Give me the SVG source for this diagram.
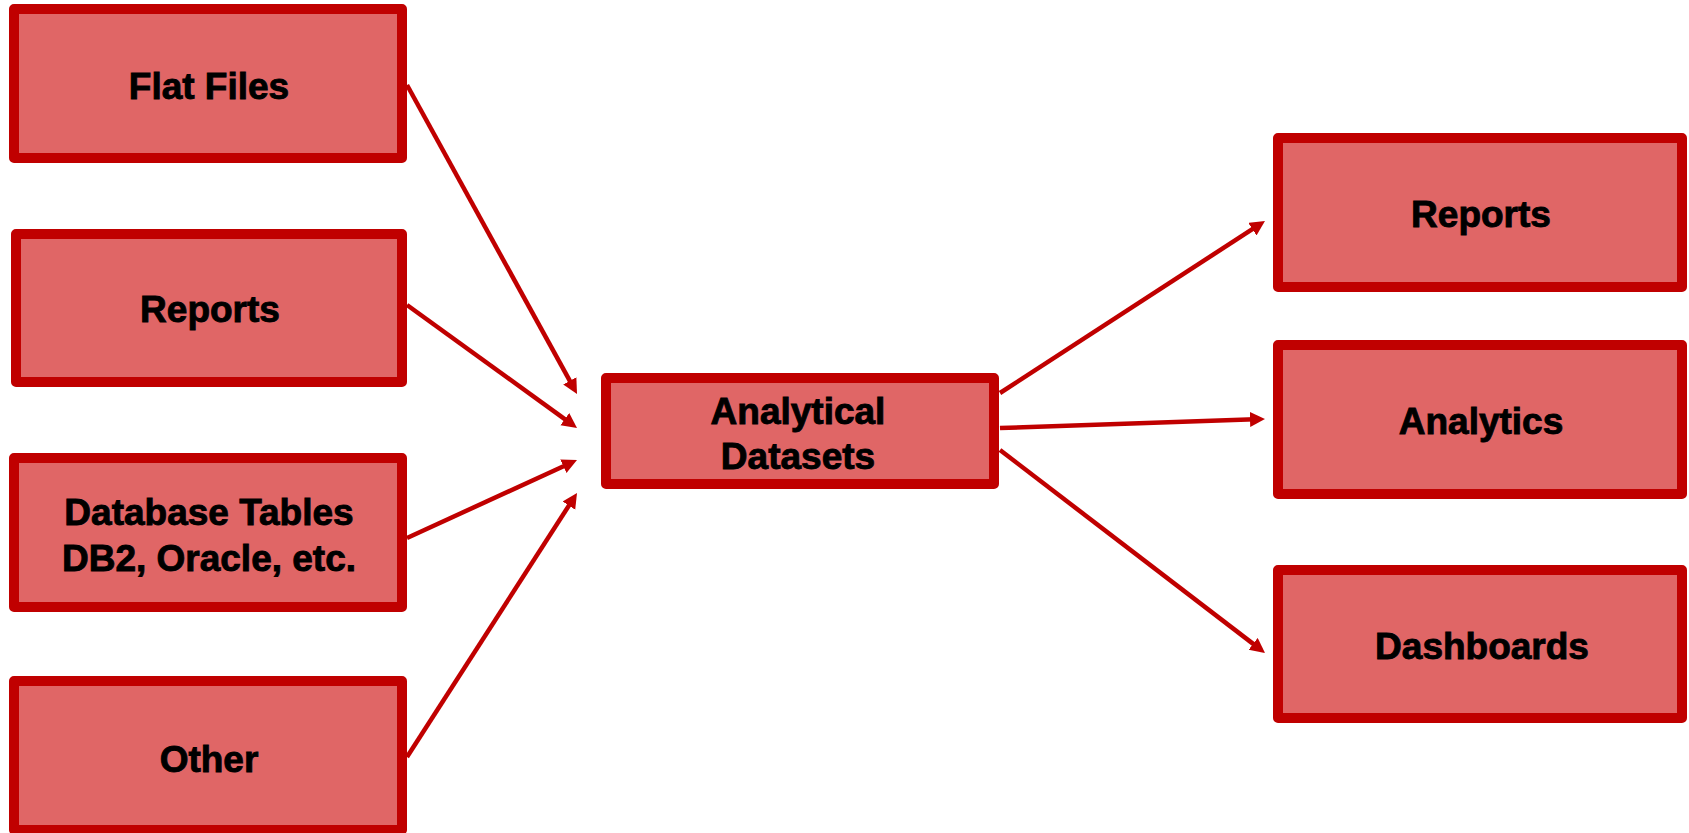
<svg xmlns="http://www.w3.org/2000/svg" width="1689" height="833" viewBox="0 0 1689 833">
  <style>
    .box { fill: #E06666; stroke: #C00000; stroke-width: 10; stroke-linejoin: round; }
    .lbl { font-family: "Liberation Sans", Arial, sans-serif; font-weight: bold; font-size: 37px; fill: #000000; stroke: #000000; stroke-width: 0.9; text-anchor: middle; }
    .conn { stroke: #C00000; stroke-width: 4.5; fill: none; }
  </style>
  <defs>
    <marker id="arrow" markerUnits="userSpaceOnUse" markerWidth="16" markerHeight="16" refX="5" refY="7.5" orient="auto">
      <path d="M0,0 L15,7.5 L0,15 z" fill="#C00000"/>
    </marker>
  </defs>
  <rect width="1689" height="833" fill="#FFFFFF"/>

  <g id="connectors">
    <line class="conn" x1="407" y1="85" x2="572.2" y2="385.2" marker-end="url(#arrow)"/>
    <line class="conn" x1="407" y1="305" x2="568.9" y2="422.1" marker-end="url(#arrow)"/>
    <line class="conn" x1="407" y1="538" x2="567.9" y2="464.2" marker-end="url(#arrow)"/>
    <line class="conn" x1="407" y1="757" x2="571.6" y2="501.4" marker-end="url(#arrow)"/>
    <line class="conn" x1="1000" y1="393" x2="1256.6" y2="226.4" marker-end="url(#arrow)"/>
    <line class="conn" x1="1000" y1="428" x2="1255" y2="419.3" marker-end="url(#arrow)"/>
    <line class="conn" x1="1000" y1="450" x2="1257.1" y2="646.9" marker-end="url(#arrow)"/>
  </g>

  <g id="flat-files">
    <rect class="box" x="14" y="9" width="388" height="149"/>
    <text class="lbl" x="209" y="99">Flat Files</text>
  </g>
  <g id="reports-in">
    <rect class="box" x="16" y="234" width="386" height="148"/>
    <text class="lbl" x="210" y="322">Reports</text>
  </g>
  <g id="database-tables">
    <rect class="box" x="14" y="458" width="388" height="149"/>
    <text class="lbl" x="209" y="525">Database Tables</text>
    <text class="lbl" x="209" y="571">DB2, Oracle, etc.</text>
  </g>
  <g id="other">
    <rect class="box" x="14" y="681" width="388" height="149"/>
    <text class="lbl" x="209" y="772">Other</text>
  </g>
  <g id="analytical-datasets">
    <rect class="box" x="606" y="378" width="388" height="106"/>
    <text class="lbl" x="798" y="424">Analytical</text>
    <text class="lbl" x="798" y="469">Datasets</text>
  </g>
  <g id="reports-out">
    <rect class="box" x="1278" y="138" width="404" height="149"/>
    <text class="lbl" x="1481" y="227">Reports</text>
  </g>
  <g id="analytics">
    <rect class="box" x="1278" y="345" width="404" height="149"/>
    <text class="lbl" x="1481" y="434">Analytics</text>
  </g>
  <g id="dashboards">
    <rect class="box" x="1278" y="570" width="404" height="148"/>
    <text class="lbl" x="1482" y="659">Dashboards</text>
  </g>
</svg>
